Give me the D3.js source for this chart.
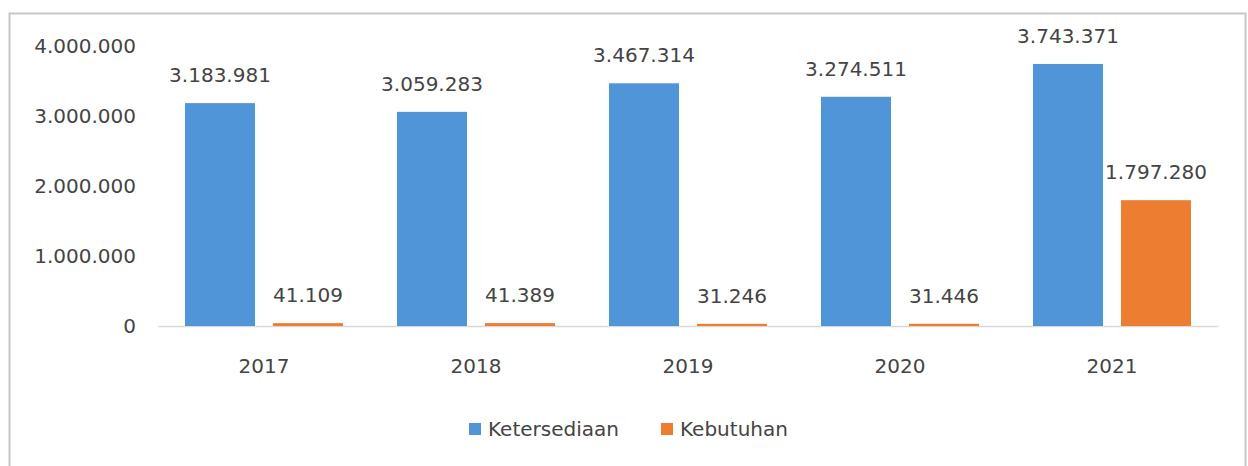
<!DOCTYPE html>
<html><head><meta charset="utf-8">
<script src="https://cdn.jsdelivr.net/npm/d3@7"></script>
<style>body{margin:0;background:#fff}svg{display:block}text{font-family:"DejaVu Sans",sans-serif}</style>
</head><body>
<svg id="c" width="1248" height="466"></svg>
<script>
const categories = ["2017","2018","2019","2020","2021"];
const seriesNames = ["Ketersediaan","Kebutuhan"];
const ketersediaan = [3183981,3059283,3467314,3274511,3743371];
const kebutuhan = [41109,41389,31246,31446,1797280];
const yTicks = [0,1000000,2000000,3000000,4000000];
const colors = ["#5095d8","#ed7d31"];

const svg = d3.select("#c");
const fmt = v => d3.format(",")(v).replace(/,/g,".");
svg.append("rect").attr("x",9.5).attr("y",13.5).attr("width",1236).attr("height",470)
  .attr("fill","#fff").attr("stroke","#c8c8c8").attr("stroke-width",2);

const x = d3.scaleBand().domain(categories).range([158,1218]);
const y = d3.scaleLinear().domain([0,4000000]).range([326,46]);
const inner = d3.scaleBand().domain(seriesNames).range([0,x.bandwidth()]).paddingInner(0.2045).paddingOuter(0.307);

const fs = 20, tc = "#444";
const yAxis = d3.axisLeft(y).tickValues(yTicks).tickFormat(fmt).tickSize(0).tickPadding(0);
const gy = svg.append("g").attr("transform","translate(136,0)").call(yAxis);
gy.select(".domain").remove();
gy.selectAll("text").attr("font-size",fs).attr("fill",tc).attr("font-family","DejaVu Sans");

const xAxis = d3.axisBottom(x).tickSize(0).tickPadding(33);
const gx = svg.append("g").attr("transform",`translate(0,${y(0)})`).call(xAxis);
gx.select(".domain").attr("stroke","#d9d9d9").attr("stroke-width",1.5);
gx.selectAll("text").attr("font-size",fs).attr("fill",tc).attr("font-family","DejaVu Sans");

const data = categories.map((c,i)=>({c, vals:[ketersediaan[i],kebutuhan[i]]}));
const g = svg.append("g");
data.forEach(d=>{
  d.vals.forEach((v,j)=>{
    const bx = x(d.c)+inner(seriesNames[j]);
    g.append("rect").attr("x",bx).attr("y",y(v)).attr("width",inner.bandwidth())
      .attr("height",y(0)-y(v)).attr("fill",colors[j]);
    g.append("text").attr("x",bx+inner.bandwidth()/2).attr("y",y(v)-21)
      .attr("text-anchor","middle").attr("font-size",fs).attr("fill",tc).text(fmt(v));
  });
});

const leg = svg.append("g");
const legX = [469,661];
seriesNames.forEach((n,j)=>{
  leg.append("rect").attr("x",legX[j]).attr("y",423).attr("width",12).attr("height",12).attr("fill",colors[j]);
  leg.append("text").attr("x",legX[j]+19).attr("y",436).attr("font-size",fs).attr("fill",tc).text(n);
});
</script>
</body></html>
